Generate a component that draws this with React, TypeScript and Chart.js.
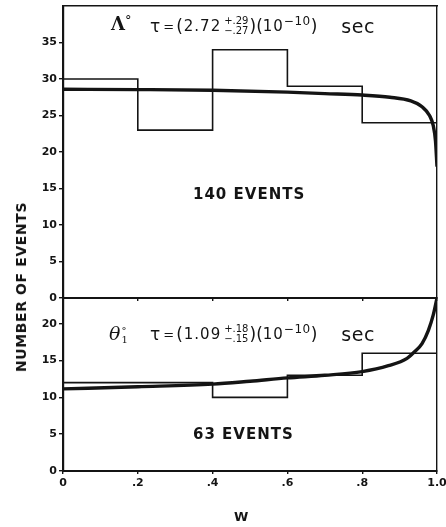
import React, { useEffect, useRef } from 'react';
import { Chart, registerables } from 'chart.js';

Chart.register(...registerables);

// ---- data ----
const binEdges = [0, 0.2, 0.4, 0.6, 0.8, 1.0];
const lambdaCounts = [30, 23, 34, 29, 24];
const thetaCounts = [12, 12, 10, 13, 16];

const lambdaFitW = [0, 0.2, 0.4, 0.6, 0.7, 0.8, 0.874, 0.93, 0.96, 0.98, 0.99, 0.996, 1.0];
const lambdaFitN = [28.6, 28.55, 28.45, 28.2, 28.0, 27.8, 27.5, 27.0, 26.2, 25.0, 23.6, 21.5, 18.0];

const thetaFitW = [0, 0.2, 0.4, 0.5, 0.6, 0.7, 0.8, 0.87, 0.92, 0.94, 0.96, 0.977, 0.99, 1.0];
const thetaFitN = [11.15, 11.45, 11.8, 12.2, 12.65, 13.0, 13.5, 14.3, 15.3, 16.2, 17.3, 19.1, 21.2, 23.5];

const xTickValues = [0, 0.2, 0.4, 0.6, 0.8, 1.0];
const xTickLabels = ['0', '.2', '.4', '.6', '.8', '1.0'];
const lambdaYTicks = [0, 5, 10, 15, 20, 25, 30, 35];
const thetaYTicks = [0, 5, 10, 15, 20];
const lambdaYMax = 40;
const thetaYMax = 23.5;

const lambdaTau = { value: '2.72', plus: '+.29', minus: '−.27' };
const thetaTau = { value: '1.09', plus: '+.18', minus: '−.15' };
const lambdaEvents = '140 EVENTS';
const thetaEvents = '63 EVENTS';

// ---- styling ----
const INK = '#141414';
const FONT = '"DejaVu Sans", sans-serif';

Chart.defaults.font.family = FONT;
Chart.defaults.color = INK;

function histogramPoints(counts: number[]) {
  return binEdges.map((x, i) => ({ x, y: counts[Math.min(i, counts.length - 1)] }));
}
function curvePoints(w: number[], n: number[]) {
  return w.map((x, i) => ({ x, y: n[i] }));
}
function fixedTicks(values: number[]) {
  return (scale: any) => {
    scale.ticks = values.map((v) => ({ value: v }));
  };
}

interface PanelOpts {
  counts: number[];
  fitW: number[];
  fitN: number[];
  yMax: number;
  yTicks: number[];
  showXLabels: boolean;
  padTop: number;
  padBottom: number;
  xHeight: number;
}

function makePanel(canvas: HTMLCanvasElement, o: PanelOpts) {
  return new Chart(canvas, {
    type: 'line',
    data: {
      datasets: [
        {
          data: histogramPoints(o.counts),
          stepped: 'before',
          borderColor: INK,
          borderWidth: 1.6,
          pointRadius: 0,
          fill: false,
          xAxisID: 'x',
          yAxisID: 'y',
        } as any,
        {
          data: curvePoints(o.fitW, o.fitN),
          cubicInterpolationMode: 'monotone',
          borderColor: INK,
          borderWidth: 3.4,
          pointRadius: 0,
          fill: false,
          xAxisID: 'x',
          yAxisID: 'y',
        } as any,
      ],
    },
    options: {
      responsive: false,
      animation: false,
      devicePixelRatio: 1,
      layout: { padding: { left: 0, right: 9, top: o.padTop, bottom: o.padBottom } },
      plugins: { legend: { display: false }, tooltip: { enabled: false } },
      events: [],
      scales: {
        x: {
          type: 'linear',
          position: 'bottom',
          min: 0,
          max: 1,
          afterBuildTicks: fixedTicks(xTickValues),
          afterFit: (s: any) => {
            s.height = o.xHeight;
            s.paddingLeft = 0;
            s.paddingRight = 0;
          },
          ticks: {
            display: o.showXLabels,
            padding: 3,
            color: INK,
            font: { size: 11, weight: 'bold' },
            maxRotation: 0,
            autoSkip: false,
            callback: (v: any) => xTickLabels[xTickValues.indexOf(Number(v))] ?? '',
          },
          grid: { drawOnChartArea: false, drawTicks: true, tickLength: 3, color: INK, lineWidth: 1.4 },
          border: { display: true, color: INK, width: 2 },
        },
        xTop: {
          type: 'linear',
          position: 'top',
          min: 0,
          max: 1,
          display: o.showXLabels ? false : true,
          afterFit: (s: any) => {
            s.height = 0;
            s.paddingLeft = 0;
            s.paddingRight = 0;
          },
          ticks: { display: false },
          grid: { display: false },
          border: { display: true, color: INK, width: 1.4 },
        },
        y: {
          type: 'linear',
          position: 'left',
          min: 0,
          max: o.yMax,
          afterBuildTicks: fixedTicks(o.yTicks),
          afterFit: (s: any) => {
            s.width = 63;
            s.paddingTop = 0;
            s.paddingBottom = 0;
          },
          ticks: { padding: 2, color: INK, font: { size: 11, weight: 'bold' }, autoSkip: false },
          grid: { drawOnChartArea: false, drawTicks: true, tickLength: 4, color: INK, lineWidth: 1.4 },
          border: { display: true, color: INK, width: 2.2 },
        },
        yRight: {
          type: 'linear',
          position: 'right',
          min: 0,
          max: o.yMax,
          afterFit: (s: any) => {
            s.width = 0;
            s.paddingTop = 0;
            s.paddingBottom = 0;
          },
          ticks: { display: false },
          grid: { display: false },
          border: { display: true, color: INK, width: 1.4 },
        },
      },
    } as any,
  });
}

function Lifetime(props: { left: number; centerY: number; value: string; plus: string; minus: string }) {
  const { left, centerY, value, plus, minus } = props;
  return (
    <div
      style={{
        position: 'absolute',
        left,
        top: centerY - 14,
        height: 28,
        display: 'flex',
        alignItems: 'center',
        whiteSpace: 'nowrap',
        fontFamily: FONT,
        fontSize: 15,
        letterSpacing: 1,
        color: INK,
      }}
    >
      <span style={{ fontSize: 17, letterSpacing: 0, marginRight: 3 }}>τ</span>
      <span style={{ letterSpacing: 0, marginRight: 2, fontSize: 13 }}>=</span>
      <span style={{ fontSize: 17, letterSpacing: 0, marginRight: 1 }}>(</span>
      <span>{value}</span>
      <span
        style={{
          display: 'inline-flex',
          flexDirection: 'column',
          alignItems: 'center',
          fontSize: 10,
          lineHeight: '10px',
          margin: '0 1px 0 3px',
          letterSpacing: 0,
        }}
      >
        <span>{plus}</span>
        <span>{minus}</span>
      </span>
      <span style={{ fontSize: 17, letterSpacing: 0 }}>)(</span>
      <span>10</span>
      <span style={{ fontSize: 12, alignSelf: 'flex-start', marginTop: 2, letterSpacing: 0.5 }}>−10</span>
      <span style={{ fontSize: 17, letterSpacing: 0 }}>)</span>
      <span style={{ marginLeft: 24, fontSize: 19, letterSpacing: 0.5 }}>sec</span>
    </div>
  );
}

export default function App() {
  const topRef = useRef<HTMLCanvasElement>(null);
  const botRef = useRef<HTMLCanvasElement>(null);

  useEffect(() => {
    const c1 = makePanel(topRef.current!, {
      counts: lambdaCounts,
      fitW: lambdaFitW,
      fitN: lambdaFitN,
      yMax: lambdaYMax,
      yTicks: lambdaYTicks,
      showXLabels: false,
      padTop: 6,
      padBottom: 14,
      xHeight: 0,
    });
    const c2 = makePanel(botRef.current!, {
      counts: thetaCounts,
      fitW: thetaFitW,
      fitN: thetaFitN,
      yMax: thetaYMax,
      yTicks: thetaYTicks,
      showXLabels: true,
      padTop: 8,
      padBottom: 0,
      xHeight: 56,
    });
    return () => {
      c1.destroy();
      c2.destroy();
    };
  }, []);

  return (
    <div
      style={{
        position: 'absolute',
        left: 0,
        top: 0,
        width: 446,
        height: 527,
        background: '#fff',
        overflow: 'hidden',
        fontFamily: FONT,
        color: INK,
      }}
    >
      <canvas ref={topRef} width={446} height={312} style={{ position: 'absolute', left: 0, top: 0, width: 446, height: 312 }} />
      <canvas ref={botRef} width={446} height={237} style={{ position: 'absolute', left: 0, top: 290, width: 446, height: 237 }} />

      <div style={{ position: 'absolute', left: 111, top: 13, fontFamily: '"DejaVu Serif", serif', fontWeight: 'bold', fontSize: 18, whiteSpace: 'nowrap' }}>
        Λ<span style={{ fontSize: 13, verticalAlign: 'top', fontWeight: 'normal' }}>°</span>
      </div>
      <Lifetime left={150} centerY={26} {...lambdaTau} />
      <div style={{ position: 'absolute', left: 193, top: 185, fontWeight: 'bold', fontSize: 15, letterSpacing: 1, whiteSpace: 'nowrap' }}>
        {lambdaEvents}
      </div>

      <div style={{ position: 'absolute', left: 109, top: 322, fontFamily: '"DejaVu Serif", serif', fontStyle: 'italic', fontSize: 19, whiteSpace: 'nowrap', lineHeight: '22px' }}>
        θ
        <span style={{ display: 'inline-flex', flexDirection: 'column', fontStyle: 'normal', fontSize: 10, lineHeight: '9px', verticalAlign: 'middle', marginLeft: 1 }}>
          <span>°</span>
          <span>1</span>
        </span>
      </div>
      <Lifetime left={150} centerY={334} {...thetaTau} />
      <div style={{ position: 'absolute', left: 193, top: 425, fontWeight: 'bold', fontSize: 15, letterSpacing: 1, whiteSpace: 'nowrap' }}>
        {thetaEvents}
      </div>

      <div
        style={{
          position: 'absolute',
          left: 21,
          top: 287,
          transform: 'translate(-50%, -50%) rotate(-90deg)',
          fontWeight: 'bold',
          fontSize: 14,
          letterSpacing: 0.6,
          whiteSpace: 'nowrap',
        }}
      >
        NUMBER OF EVENTS
      </div>
      <div style={{ position: 'absolute', left: 234, top: 509, fontWeight: 'bold', fontSize: 13, whiteSpace: 'nowrap' }}>W</div>
    </div>
  );
}
